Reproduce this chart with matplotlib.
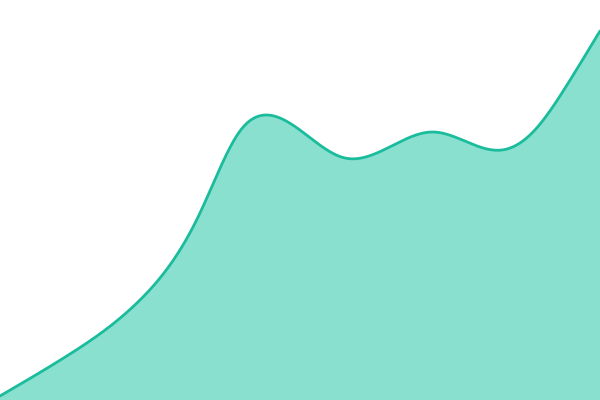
import numpy as np
import matplotlib
matplotlib.use("Agg")
import matplotlib.pyplot as plt

# sampled values along the curve (x position, value)
xs = [0, 70, 140, 200, 240, 267, 345, 433, 502, 533, 567, 600]
vals = [4, 46, 100, 187, 269, 285, 242, 268, 250, 268, 315, 369]


def natural_spline(x, y, xn):
    # natural cubic spline, solved as a small linear system
    x = np.asarray(x, float)
    y = np.asarray(y, float)
    n = len(x)
    h = np.diff(x)
    A = np.zeros((n, n))
    b = np.zeros(n)
    A[0, 0] = A[-1, -1] = 1
    for i in range(1, n - 1):
        A[i, i - 1] = h[i - 1]
        A[i, i] = 2 * (h[i - 1] + h[i])
        A[i, i + 1] = h[i]
        b[i] = 6 * ((y[i + 1] - y[i]) / h[i] - (y[i] - y[i - 1]) / h[i - 1])
    M = np.linalg.solve(A, b)
    idx = np.clip(np.searchsorted(x, xn) - 1, 0, n - 2)
    x0, x1 = x[idx], x[idx + 1]
    hh = h[idx]
    return (M[idx] * (x1 - xn) ** 3 / (6 * hh) + M[idx + 1] * (xn - x0) ** 3 / (6 * hh)
            + (y[idx] / hh - M[idx] * hh / 6) * (x1 - xn)
            + (y[idx + 1] / hh - M[idx + 1] * hh / 6) * (xn - x0))


xn = np.linspace(xs[0], xs[-1], 1200)
yn = natural_spline(xs, vals, xn)

fig = plt.figure(figsize=(6, 4), dpi=100)
ax = fig.add_axes([0, 0, 1, 1])
ax.fill_between(xn, 0, yn, color="#8ae0cf", linewidth=0)
ax.plot(xn, yn, color="#1abc9c", linewidth=2.0, solid_capstyle="round")
ax.set_xlim(0, 600)
ax.set_ylim(0, 400)
ax.axis("off")
fig.savefig("out.png", dpi=100)
